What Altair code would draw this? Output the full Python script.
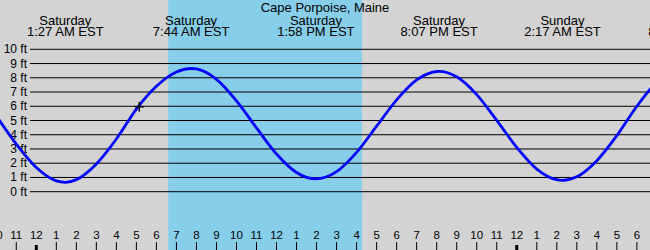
import altair as alt
import pandas as pd

# ---- data ----
curve_hours = [-2, -1, 0, 1, 1.45, 2, 3, 4, 5, 6, 7, 7.733, 8, 9, 10, 11, 12, 13, 13.967,
               15, 16, 17, 18, 19, 20, 20.117, 21, 22, 23, 24, 25, 26, 26.283,
               27, 28, 29, 30, 31, 32, 32.483]
curve_ft = [5.33, 3.34, 1.70, 0.76, 0.66, 0.85, 1.95, 3.7, 5.8, 7.4, 8.4, 8.65, 8.62, 7.89, 6.38,
            4.48, 2.65, 1.35, 0.9, 1.41, 2.76, 4.6, 6.45, 7.85, 8.44, 8.45, 8.07, 6.82, 5.01,
            3.11, 1.59, 0.84, 0.8, 1.05, 2.18, 3.94, 6.0, 7.7, 8.5, 8.6]

tide_hours = [1.45, 7.733, 13.967, 20.117, 26.283, 32.483]
tide_days = ["Saturday", "Saturday", "Saturday", "Saturday", "Sunday", "Sunday"]
tide_times = ["1:27 AM EST", "7:44 AM EST", "1:58 PM EST", "8:07 PM EST", "2:17 AM EST", "8:29 AM EST"]

day_start, day_end = 6.59, 16.27
now_hour, now_ft = 5.145, 5.97

ft_levels = [0, 1, 2, 3, 4, 5, 6, 7, 8, 9, 10]
ft_labels = ["0 ft", "1 ft", "2 ft", "3 ft", "4 ft", "5 ft", "6 ft", "7 ft", "8 ft", "9 ft", "10 ft"]

tick_hours = list(range(-2, 31))
tick_labels = ["10", "11", "12", "1", "2", "3", "4", "5", "6", "7", "8", "9", "10", "11",
               "12", "1", "2", "3", "4", "5", "6", "7", "8", "9", "10", "11",
               "12", "1", "2", "3", "4", "5", "6"]
midnight_hours = [0, 24]

title_text = "Cape Porpoise, Maine"

# ---- tables ----
curve = pd.DataFrame({"h": curve_hours, "ft": curve_ft})
tides = pd.DataFrame({"h": tide_hours, "day": tide_days, "time": tide_times})
levels = pd.DataFrame({"ft": ft_levels, "label": ft_labels})
ticks = pd.DataFrame({"h": tick_hours, "label": tick_labels})
ticks_thin = ticks[~ticks["h"].isin(midnight_hours)]
ticks_mid = pd.DataFrame({"h": midnight_hours})
band = pd.DataFrame({"h": [day_start], "h2": [day_end]})
now = pd.DataFrame({"h": [now_hour], "ft": [now_ft]})

FONT = "Liberation Sans"
xs = alt.Scale(domain=[-1.813, 30.655], zero=False, nice=False)
ys = alt.Scale(domain=[-4.094, 13.462], zero=False, nice=False)

band_l = alt.Chart(band).mark_rect(color="#87ceeb").encode(
    x=alt.X("h:Q", scale=xs, axis=None), x2="h2:Q",
    y=alt.value(0), y2=alt.value(250))

grid = alt.Chart(levels).mark_rule(color="black", strokeWidth=1).encode(
    y=alt.Y("ft:Q", scale=ys, axis=None), x=alt.value(30), x2=alt.value(650))

ylab = alt.Chart(levels).mark_text(align="right", baseline="middle", font=FONT,
                                   fontSize=12, color="black").encode(
    y=alt.Y("ft:Q", scale=ys, axis=None), x=alt.value(27), text="label:N")

line = alt.Chart(curve).mark_line(color="#0000ff", strokeWidth=2.8,
                                  interpolate="monotone", clip=True).encode(
    x=alt.X("h:Q", scale=xs, axis=None), y=alt.Y("ft:Q", scale=ys, axis=None))

marker = alt.Chart(now).mark_point(shape="M-1,0L1,0M0,-1L0,1", size=90, filled=False,
                                   stroke="black", strokeWidth=1.5, opacity=1,
                                   strokeOpacity=1).encode(
    x=alt.X("h:Q", scale=xs, axis=None), y=alt.Y("ft:Q", scale=ys, axis=None))

tick_thin = alt.Chart(ticks_thin).mark_rule(color="black", strokeWidth=1).encode(
    x=alt.X("h:Q", scale=xs, axis=None), y=alt.value(242), y2=alt.value(250))

tick_thick = alt.Chart(ticks_mid).mark_rule(color="black", strokeWidth=3).encode(
    x=alt.X("h:Q", scale=xs, axis=None), y=alt.value(245), y2=alt.value(250))

xlab = alt.Chart(ticks).mark_text(align="center", baseline="middle", font=FONT,
                                  fontSize=11.5, color="black").encode(
    x=alt.X("h:Q", scale=xs, axis=None), y=alt.value(235.5), text="label:N")

day_l = alt.Chart(tides).mark_text(align="center", baseline="alphabetic", font=FONT,
                                   fontSize=13, color="black").encode(
    x=alt.X("h:Q", scale=xs, axis=None), y=alt.value(24.5), text="day:N")

time_l = alt.Chart(tides).mark_text(align="center", baseline="alphabetic", font=FONT,
                                    fontSize=13, color="black").encode(
    x=alt.X("h:Q", scale=xs, axis=None), y=alt.value(36), text="time:N")

title_l = alt.Chart(pd.DataFrame({"t": [title_text]})).mark_text(
    align="center", baseline="alphabetic", font=FONT, fontSize=13, color="black").encode(
    x=alt.value(325), y=alt.value(12), text="t:N")

chart = alt.layer(band_l, grid, ylab, line, marker, tick_thin, tick_thick, xlab,
                  day_l, time_l, title_l).properties(
    width=650, height=250,
    autosize=alt.AutoSizeParams(type="none"),
    padding=0,
    background="#d3d3d3",
).configure_view(stroke=None)

chart.save("out.html", embed_options={"renderer": "svg", "actions": False})
